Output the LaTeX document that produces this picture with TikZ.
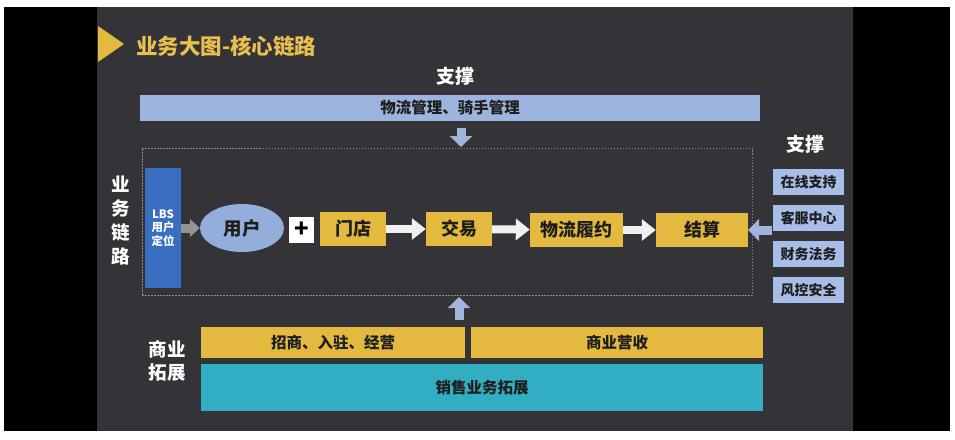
\documentclass[tikz,border=0pt]{standalone}
\usepackage{fontspec}
\setmainfont{Noto Sans CJK SC}
\usetikzlibrary{positioning,arrows.meta,shapes.geometric}

\definecolor{slidebg}{HTML}{343337}
\definecolor{coreyellow}{HTML}{E3BA3F}
\definecolor{titleyellow}{HTML}{E9C050}
\definecolor{barblue}{HTML}{9CB4DE}
\definecolor{userblue}{HTML}{94AEDC}
\definecolor{lbsblue}{HTML}{3A6EC1}
\definecolor{sideblue}{HTML}{A8BEE8}
\definecolor{salesteal}{HTML}{31AEC1}
\definecolor{boxtext}{HTML}{1E1E1E}
\definecolor{dashgray}{HTML}{8C8C8C}

\begin{document}
\begin{tikzpicture}[x=1pt,y=-1pt,
          core/.style={rectangle, fill=coreyellow, inner sep=0pt, minimum height=34pt, text=boxtext, font=\fontsize{18}{20}\selectfont\bfseries},
          side/.style={rectangle, fill=sideblue, inner sep=0pt, minimum width=71pt, minimum height=26pt, text=boxtext, font=\fontsize{14}{16}\selectfont\bfseries},
          bar/.style={rectangle, inner sep=0pt, text=boxtext, font=\fontsize{15.5}{18}\selectfont\bfseries},
          label/.style={text=white, align=center, font=\fontsize{19}{23}\selectfont\bfseries},
          whitearrow/.style={line width=8pt, draw=white!94!black, -{Triangle[length=14pt,width=21pt]}},
          grayarrow/.style={line width=9pt, draw=gray!85, -{Triangle[length=10pt,width=18pt]}},
          bluearrow/.style={line width=9pt, draw=sideblue!95!black, -{Triangle[length=11pt,width=22pt]}}
        ]
          % slide background
          \fill[white] (0,0) rectangle (955,439);
          \fill[black] (4,7) rectangle (950,431);
          \fill[slidebg] (97,7) rectangle (853,431);
          \useasboundingbox (0,0) rectangle (955,439);

          % title
          \fill[coreyellow] (98,26) -- (124,44) -- (98,62) -- cycle;
          \node[anchor=west, text=titleyellow, inner sep=0pt, font=\fontsize{21.5}{24}\selectfont\bfseries] (title) at (136,46) {业务大图-核心链路};

          % support on top
          \node[label] (supporttop) at (455,76) {支撑};
          \node[bar, fill=barblue, minimum width=620pt, minimum height=26pt] (logistics) at (450,108) {物流管理、骑手管理};
          \coordinate (downtop) at (461,128);
          \coordinate (downend) at (461,147);

          % core chain
          \node[rectangle, draw=dashgray, dash pattern=on 1.5pt off 1.5pt, minimum width=610pt, minimum height=147pt] (chain) at (447,221.5) {};
          \node[label, font=\fontsize{18.5}{24}\selectfont\bfseries] (chainlabel) at (121,221) {业\\务\\链\\路};
          \node[rectangle, fill=lbsblue, inner sep=0pt, minimum width=36pt, minimum height=120pt, text=white, align=center, font=\fontsize{11.5}{13.5}\selectfont\bfseries] (lbs) at (163,228) {LBS\\用户\\定位};
          \node[ellipse, fill=userblue, inner sep=0pt, minimum width=84pt, minimum height=48pt, text=boxtext, font=\fontsize{18.5}{20}\selectfont\bfseries] (user) at (242,228) {用户};
          \node[rectangle, fill=white, inner sep=0pt, minimum width=25pt, minimum height=26pt, text=black, font=\fontsize{24}{24}\selectfont\bfseries] (plus) at (301.5,230) {+};
          \node[core, minimum width=66pt] (store) at (353,229) {门店};
          \node[core, minimum width=66pt] (deal) at (459,229) {交易};
          \node[core, minimum width=93pt] (fulfil) at (576.5,230) {物流履约};
          \node[core, minimum width=92pt] (settle) at (702,230) {结算};

          % support on the right
          \node[label] (supportside) at (805,144) {支撑};
          \node[side] (online) at (808.5,182) {在线支持};
          \node[side] (service) at (808.5,218) {客服中心};
          \node[side] (finance) at (808.5,254) {财务法务};
          \node[side] (risk) at (808.5,290) {风控安全};
          \coordinate (sidestart) at (772,230);

          % business expansion
          \node[label, font=\fontsize{18.5}{23}\selectfont\bfseries] (bizlabel) at (167,361) {商业\\拓展};
          \node[bar, fill=coreyellow, minimum width=264pt, minimum height=31pt] (merchant) at (333,342.5) {招商、入驻、经营};
          \node[bar, fill=coreyellow, minimum width=292pt, minimum height=31pt] (revenue) at (617,342.5) {商业营收};
          \node[bar, fill=salesteal, minimum width=562pt, minimum height=47pt] (sales) at (482,387.5) {销售业务拓展};
          \coordinate (upstart) at (459,320);
          \coordinate (upend) at (459,297);

          % arrows
          \draw[grayarrow] (lbs) -- (user);
          \draw[whitearrow] (store) -- (deal);
          \draw[whitearrow] (deal) -- (fulfil);
          \draw[whitearrow] (fulfil) -- (settle);
          \draw[bluearrow] (sidestart) -- (settle.east);
          \draw[bluearrow] (downtop) -- (downend);
          \draw[bluearrow] (upstart) -- (upend);
\end{tikzpicture}
\end{document}
